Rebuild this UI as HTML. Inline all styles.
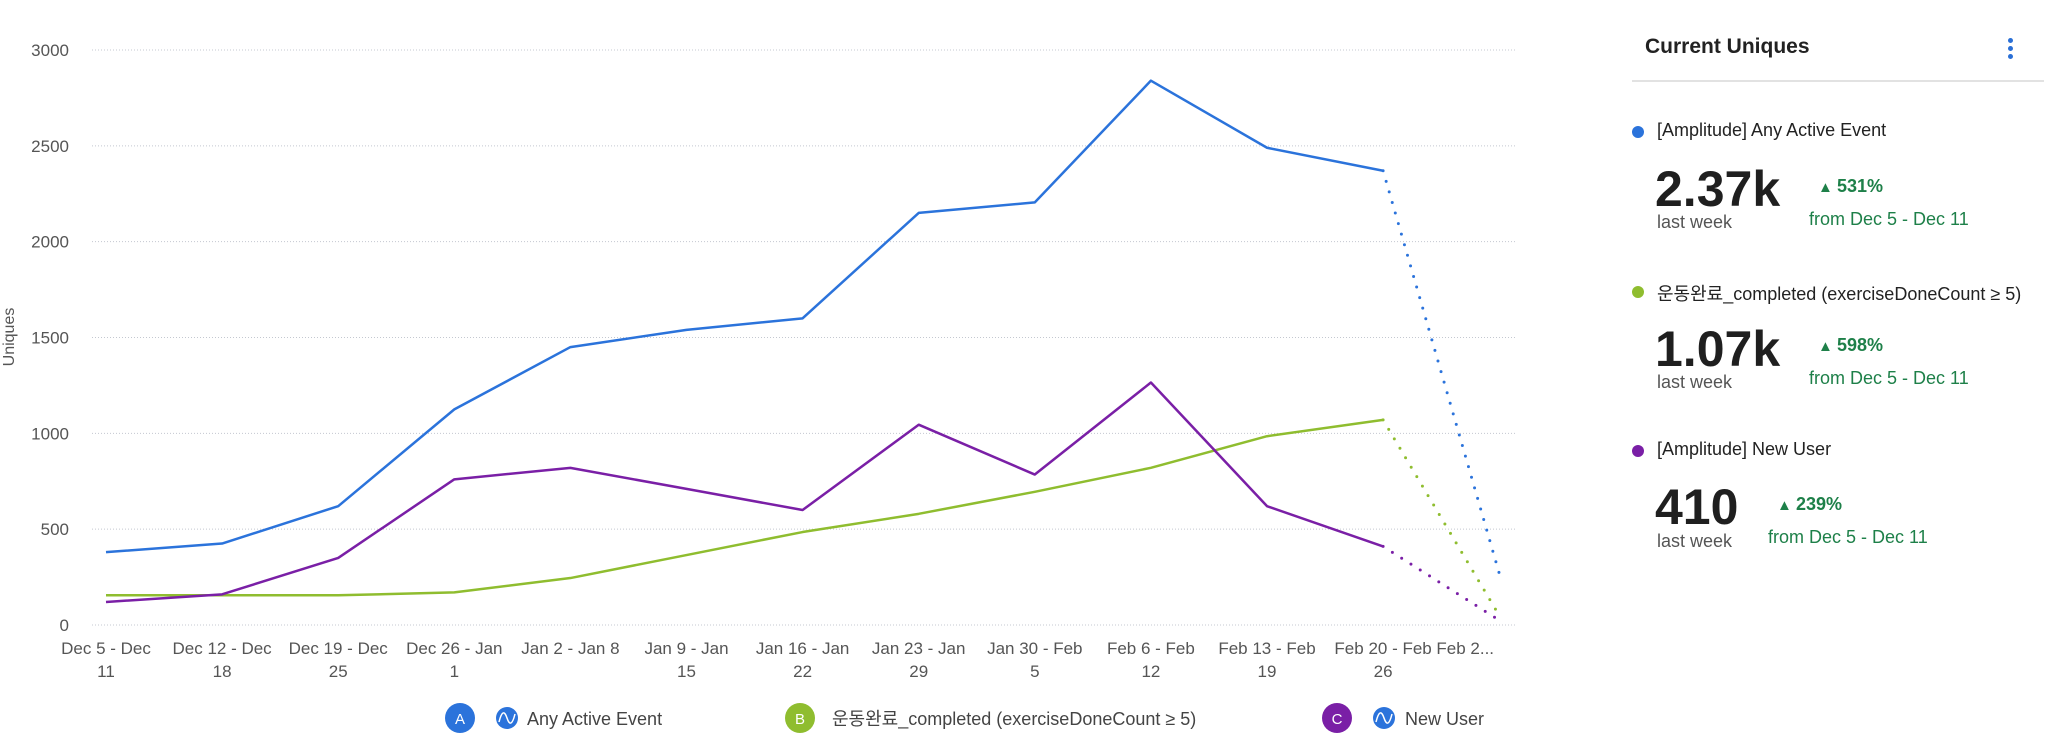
<!DOCTYPE html>
<html><head><meta charset="utf-8"><style>
body{margin:0;width:2048px;height:748px;background:#fff;overflow:hidden;font-family:"Liberation Sans","Noto Sans CJK KR",sans-serif;position:relative}
.p{position:absolute;white-space:nowrap}
</style></head><body>
<svg id="chart" width="1560" height="748" style="position:absolute;left:0;top:0" font-family="Liberation Sans, Noto Sans CJK KR, sans-serif"></svg>

<div class="p" style="left:1645px;top:35px;font-size:21px;font-weight:bold;color:#222">Current Uniques</div>
<div class="p" style="left:2008px;top:38px;width:6px;">
 <div style="width:5px;height:5px;border-radius:50%;background:#2a6fd6;margin-bottom:3px"></div>
 <div style="width:5px;height:5px;border-radius:50%;background:#2a6fd6;margin-bottom:3px"></div>
 <div style="width:5px;height:5px;border-radius:50%;background:#2a6fd6"></div>
</div>
<div class="p" style="left:1632px;top:80px;width:412px;height:2px;background:#e2e2e2"></div>

<div>
 <div class="p" style="left:1632px;top:126px;width:12px;height:12px;border-radius:50%;background:#2b73db"></div>
 <div class="p" style="left:1657px;top:120px;font-size:18px;color:#222">[Amplitude] Any Active Event</div>
 <div class="p" style="left:1655px;top:160px;font-size:50px;font-weight:bold;color:#1f1f1f">2.37k</div>
 <div class="p" style="left:1657px;top:212px;font-size:18px;color:#555">last week</div>
 <div class="p" style="left:1818px;top:176px;font-size:15px;font-weight:bold;color:#1e8049">▲ <span style="font-size:18px">531%</span></div>
 <div class="p" style="left:1809px;top:209px;font-size:18px;color:#1e8049">from Dec 5 - Dec 11</div>
</div>
<div>
 <div class="p" style="left:1632px;top:286px;width:12px;height:12px;border-radius:50%;background:#8fbd2f"></div>
 <div class="p" style="left:1657px;top:280px;font-size:18px;color:#222">운동완료_completed (exerciseDoneCount ≥ 5)</div>
 <div class="p" style="left:1655px;top:320px;font-size:50px;font-weight:bold;color:#1f1f1f">1.07k</div>
 <div class="p" style="left:1657px;top:372px;font-size:18px;color:#555">last week</div>
 <div class="p" style="left:1818px;top:335px;font-size:15px;font-weight:bold;color:#1e8049">▲ <span style="font-size:18px">598%</span></div>
 <div class="p" style="left:1809px;top:368px;font-size:18px;color:#1e8049">from Dec 5 - Dec 11</div>
</div>
<div>
 <div class="p" style="left:1632px;top:445px;width:12px;height:12px;border-radius:50%;background:#7a1fa6"></div>
 <div class="p" style="left:1657px;top:439px;font-size:18px;color:#222">[Amplitude] New User</div>
 <div class="p" style="left:1655px;top:478px;font-size:50px;font-weight:bold;color:#1f1f1f">410</div>
 <div class="p" style="left:1657px;top:531px;font-size:18px;color:#555">last week</div>
 <div class="p" style="left:1777px;top:494px;font-size:15px;font-weight:bold;color:#1e8049">▲ <span style="font-size:18px">239%</span></div>
 <div class="p" style="left:1768px;top:527px;font-size:18px;color:#1e8049">from Dec 5 - Dec 11</div>
</div>

<script>
const categories=[["Dec 5 - Dec","11"],["Dec 12 - Dec","18"],["Dec 19 - Dec","25"],["Dec 26 - Jan","1"],["Jan 2 - Jan 8",""],["Jan 9 - Jan","15"],["Jan 16 - Jan","22"],["Jan 23 - Jan","29"],["Jan 30 - Feb","5"],["Feb 6 - Feb","12"],["Feb 13 - Feb","19"],["Feb 20 - Feb","26"],["Feb 2...",""]];
const seriesA=[380,425,620,1125,1450,1540,1600,2150,2205,2840,2490,2370,270];
const seriesB=[155,155,155,170,245,365,485,580,695,820,985,1070,50];
const seriesC=[120,160,350,760,820,710,600,1045,785,1265,620,410,25];
const yTicks=[0,500,1000,1500,2000,2500,3000];
const NS="http://www.w3.org/2000/svg";
const svg=document.getElementById('chart');
const x=i=>106+i*116.1;
const y=v=>625-v*(575/3000);
function mk(t,a,txt){const e=document.createElementNS(NS,t);for(const k in a)e.setAttribute(k,a[k]);if(txt!==undefined)e.textContent=txt;svg.appendChild(e);return e;}
yTicks.forEach(t=>{
 const g=mk('line',{x1:92,x2:1515,y1:y(t),y2:y(t),stroke:'#c4c8d0','stroke-width':1,'stroke-dasharray':'1 2'});
 
 
 const l=mk('text',{x:69,y:y(t)+6,'text-anchor':'end','font-size':17,fill:'#555'},String(t));
 
 
});
const yt=mk('text',{x:14,y:337,'text-anchor':'middle','font-size':16,fill:'#555',transform:'rotate(-90 14 337)'},'Uniques');


categories.forEach((c,i)=>{
 const lx=i===categories.length-1?x(i)-34:x(i);
 const t=mk('text',{x:lx,y:654,'text-anchor':'middle','font-size':17,fill:'#555'},c[0]);
 
 
 if(c[1]){const t2=mk('text',{x:x(i),y:677,'text-anchor':'middle','font-size':17,fill:'#555'},c[1]);
 
 }
});
function series(vals,color,name){
 const n=vals.length;
 const pts=vals.slice(0,n-1).map((v,i)=>x(i)+','+y(v)).join(' ');
 const p=mk('polyline',{points:pts,fill:'none',stroke:color,'stroke-width':2.5,'stroke-linejoin':'round'});
 
 
 const d=mk('line',{x1:x(n-2),y1:y(vals[n-2]),x2:x(n-1),y2:y(vals[n-1]),stroke:color,'stroke-width':3,'stroke-dasharray':'0 11','stroke-linecap':'round'});
 
 
}
series(seriesB,'#8fbd2f','series-completed');
series(seriesA,'#2b73db','series-any-active');
series(seriesC,'#7a1fa6','series-new-user');
function legend(cx,letter,color,icon,label,tx,name){
 const c=mk('circle',{cx:cx,cy:718,r:15,fill:color});
 
 
 mk('text',{x:cx,y:724,'text-anchor':'middle','font-size':15,fill:'#fff'},letter);
 if(icon){const ic=mk('circle',{cx:cx+47,cy:718,r:11,fill:'#2b73db'});
  
  
  mk('path',{d:`M${cx+39} 722 Q${cx+43} 706 ${cx+47} 718 T${cx+55} 714`,stroke:'#fff','stroke-width':1.5,fill:'none'});}
 const t=mk('text',{x:tx,y:725,'font-size':18,fill:'#444'},label);
 
 
}
legend(460,'A','#2b73db',true,'Any Active Event',527,'legend-any-active');
legend(800,'B','#8fbd2f',false,'운동완료_completed (exerciseDoneCount ≥ 5)',832,'legend-completed');
legend(1337,'C','#7a1fa6',true,'New User',1405,'legend-new-user');
</script>
</body></html>
